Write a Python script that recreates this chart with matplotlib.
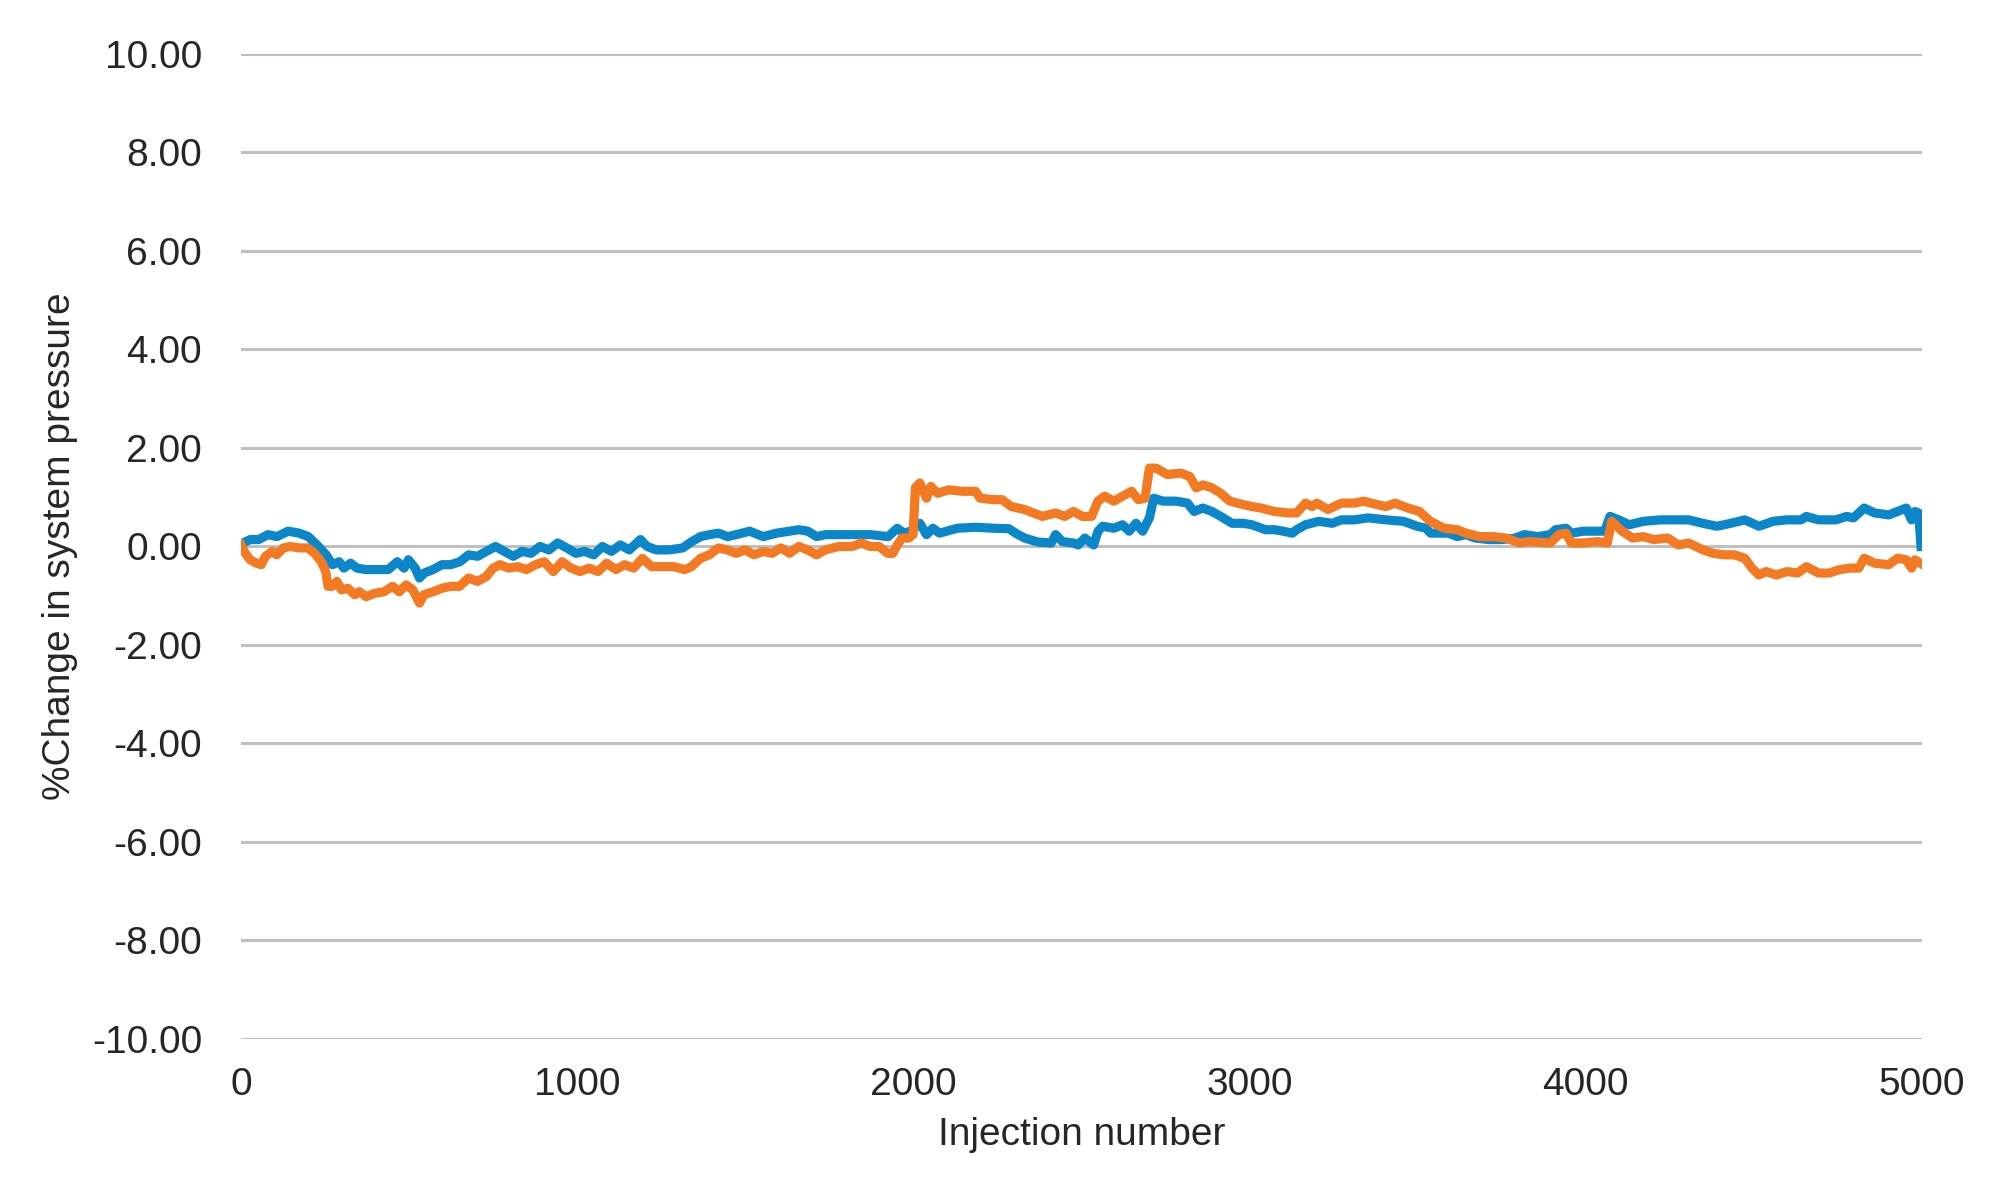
import matplotlib.pyplot as plt
from matplotlib.ticker import FormatStrFormatter

plt.rcParams['font.family'] = ['Liberation Sans', 'DejaVu Sans']
plt.rcParams['axes.unicode_minus'] = False

# injection number / % change
blue_x = [0, 27, 53, 80, 107, 140, 173, 200, 226, 253, 272, 292, 306, 326, 345, 372, 412, 438, 465, 485,
          498, 518, 531, 545, 571, 598, 624, 651, 677, 704, 730, 757, 783, 810, 836, 863, 889, 916, 942, 969,
          996, 1022, 1049, 1075, 1102, 1128, 1155, 1188, 1208, 1235, 1274, 1314, 1341, 1367, 1394, 1420, 1447,
          1473, 1513, 1553, 1593, 1632, 1659, 1686, 1712, 1739, 1805, 1872, 1925, 1952, 1972, 1992, 2019, 2039,
          2058, 2078, 2131, 2185, 2238, 2284, 2304, 2331, 2370, 2410, 2423, 2443, 2476, 2490, 2510, 2536, 2549,
          2563, 2596, 2622, 2642, 2662, 2682, 2702, 2715, 2742, 2782, 2815, 2835, 2861, 2888, 2914, 2948, 2981,
          3007, 3047, 3074, 3100, 3127, 3140, 3166, 3206, 3246, 3273, 3312, 3352, 3405, 3458, 3498, 3525, 3538,
          3591, 3618, 3644, 3671, 3711, 3750, 3790, 3817, 3857, 3894, 3910, 3941, 3957, 3993, 4035, 4056, 4072,
          4098, 4129, 4171, 4223, 4265, 4306, 4348, 4390, 4431, 4473, 4515, 4557, 4598, 4640, 4656, 4692, 4744,
          4776, 4796, 4828, 4859, 4901, 4927, 4953, 4969, 4979, 4990, 4997]
blue_y = [0.05, 0.14, 0.14, 0.24, 0.20, 0.31, 0.27, 0.20, 0.03, -0.17, -0.37, -0.31, -0.44, -0.34, -0.44, -0.47,
          -0.47, -0.47, -0.31, -0.44, -0.27, -0.44, -0.64, -0.54, -0.47, -0.37, -0.37, -0.31, -0.17, -0.20, -0.10,
          0.00, -0.10, -0.20, -0.10, -0.14, 0.00, -0.07, 0.07, -0.03, -0.14, -0.10, -0.17, 0.00, -0.10, 0.03,
          -0.07, 0.14, 0.00, -0.07, -0.07, -0.03, 0.10, 0.20, 0.24, 0.27, 0.20, 0.24, 0.31, 0.20, 0.27, 0.31,
          0.34, 0.31, 0.20, 0.24, 0.24, 0.24, 0.20, 0.37, 0.27, 0.31, 0.47, 0.24, 0.37, 0.27, 0.37, 0.39, 0.37,
          0.36, 0.27, 0.17, 0.09, 0.07, 0.24, 0.10, 0.07, 0.03, 0.17, 0.03, 0.31, 0.41, 0.37, 0.44, 0.31, 0.47,
          0.31, 0.58, 0.98, 0.92, 0.92, 0.88, 0.71, 0.78, 0.71, 0.61, 0.47, 0.47, 0.44, 0.34, 0.34, 0.31, 0.27,
          0.34, 0.44, 0.51, 0.47, 0.54, 0.54, 0.58, 0.54, 0.51, 0.41, 0.37, 0.27, 0.27, 0.20, 0.24, 0.17, 0.14,
          0.14, 0.17, 0.24, 0.20, 0.24, 0.34, 0.37, 0.27, 0.31, 0.31, 0.31, 0.61, 0.54, 0.44, 0.51, 0.54, 0.54,
          0.54, 0.47, 0.41, 0.47, 0.54, 0.41, 0.51, 0.54, 0.54, 0.61, 0.54, 0.54, 0.61, 0.58, 0.78, 0.68, 0.64,
          0.71, 0.78, 0.54, 0.71, 0.68, 0.00]

orange_x = [0, 13, 27, 46, 60, 73, 93, 106, 126, 146, 173, 199, 219, 239, 252, 259, 272, 285, 299, 318, 338,
            352, 372, 398, 425, 451, 471, 491, 511, 531, 544, 571, 597, 624, 650, 677, 703, 730, 750, 770, 796,
            823, 849, 876, 902, 929, 955, 982, 1009, 1035, 1062, 1088, 1115, 1141, 1168, 1194, 1221, 1247, 1287,
            1320, 1340, 1367, 1393, 1420, 1446, 1473, 1500, 1526, 1553, 1579, 1606, 1632, 1659, 1685, 1712,
            1738, 1778, 1818, 1845, 1871, 1898, 1924, 1939, 1952, 1966, 1986, 1999, 2006, 2019, 2039, 2052,
            2072, 2105, 2145, 2185, 2198, 2238, 2264, 2291, 2331, 2357, 2384, 2423, 2450, 2476, 2503, 2530,
            2549, 2569, 2596, 2622, 2649, 2669, 2689, 2702, 2722, 2755, 2795, 2822, 2841, 2861, 2888, 2914,
            2941, 2981, 3007, 3034, 3074, 3114, 3140, 3166, 3186, 3200, 3233, 3273, 3312, 3339, 3379, 3405,
            3432, 3471, 3505, 3538, 3578, 3618, 3644, 3684, 3724, 3763, 3803, 3830, 3894, 3920, 3941, 3957,
            3993, 4035, 4064, 4077, 4108, 4139, 4171, 4202, 4244, 4275, 4306, 4348, 4379, 4411, 4442, 4473,
            4494, 4515, 4536, 4567, 4598, 4630, 4656, 4692, 4724, 4755, 4786, 4812, 4828, 4859, 4901, 4927,
            4953, 4969, 4979, 4995]
orange_y = [0.03, -0.14, -0.27, -0.34, -0.37, -0.20, -0.10, -0.17, -0.03, 0.00, -0.03, -0.03, -0.14, -0.31,
            -0.51, -0.81, -0.81, -0.71, -0.88, -0.85, -0.98, -0.92, -1.02, -0.95, -0.92, -0.81, -0.92, -0.78,
            -0.88, -1.15, -0.98, -0.92, -0.85, -0.81, -0.81, -0.64, -0.71, -0.61, -0.44, -0.37, -0.44, -0.41,
            -0.47, -0.37, -0.31, -0.51, -0.31, -0.44, -0.51, -0.44, -0.51, -0.34, -0.47, -0.37, -0.44, -0.24,
            -0.41, -0.41, -0.41, -0.47, -0.41, -0.24, -0.17, -0.03, -0.07, -0.14, -0.07, -0.17, -0.10, -0.14,
            -0.03, -0.14, 0.00, -0.07, -0.17, -0.07, 0.00, 0.00, 0.07, 0.00, 0.00, -0.14, -0.14, 0.03, 0.17,
            0.17, 0.24, 1.19, 1.29, 0.98, 1.22, 1.08, 1.15, 1.12, 1.12, 0.98, 0.95, 0.95, 0.81, 0.75, 0.68,
            0.61, 0.68, 0.61, 0.71, 0.61, 0.61, 0.92, 1.02, 0.92, 1.02, 1.12, 0.95, 0.98, 1.59, 1.59, 1.46,
            1.49, 1.42, 1.19, 1.25, 1.19, 1.08, 0.92, 0.85, 0.81, 0.78, 0.71, 0.68, 0.68, 0.88, 0.81, 0.88,
            0.75, 0.88, 0.88, 0.92, 0.85, 0.81, 0.88, 0.78, 0.71, 0.51, 0.37, 0.34, 0.27, 0.20, 0.20, 0.17,
            0.07, 0.10, 0.07, 0.24, 0.27, 0.07, 0.07, 0.10, 0.07, 0.51, 0.31, 0.17, 0.20, 0.14, 0.17, 0.03,
            0.07, -0.07, -0.14, -0.17, -0.17, -0.24, -0.44, -0.58, -0.51, -0.58, -0.51, -0.54, -0.41, -0.54,
            -0.54, -0.47, -0.44, -0.44, -0.24, -0.34, -0.37, -0.24, -0.27, -0.44, -0.27, -0.34]

y_ticks = [-10, -8, -6, -4, -2, 0, 2, 4, 6, 8, 10]
x_ticks = [0, 1000, 2000, 3000, 4000, 5000]

text_color = '#262626'

fig = plt.figure(figsize=(10, 5.93), dpi=200)
ax = fig.add_axes([0.1205, 0.124, 0.8405, 0.8305])

ax.plot(blue_x, blue_y, color='#0A86C9', lw=3.3, solid_joinstyle='round', zorder=3)
ax.plot(orange_x, orange_y, color='#F37A22', lw=3.3, solid_joinstyle='round', zorder=4)

ax.set_xlim(0, 5000)
ax.set_ylim(-10, 10)
ax.set_yticks(y_ticks)
ax.set_xticks(x_ticks)
ax.yaxis.set_major_formatter(FormatStrFormatter('%.2f'))

ax.grid(axis='y', color='#BFBFBF', lw=1.1)
ax.set_axisbelow(True)
for s in ax.spines.values():
    s.set_visible(False)

ax.tick_params(axis='both', length=0, labelsize=14, colors=text_color)
ax.tick_params(axis='y', pad=14)
ax.tick_params(axis='x', pad=10)

ax.set_xlabel('Injection number', fontsize=14, color=text_color, labelpad=5)
ax.set_ylabel('%Change in system pressure', fontsize=14, color=text_color, labelpad=5)

fig.savefig('out.png', dpi=200)
